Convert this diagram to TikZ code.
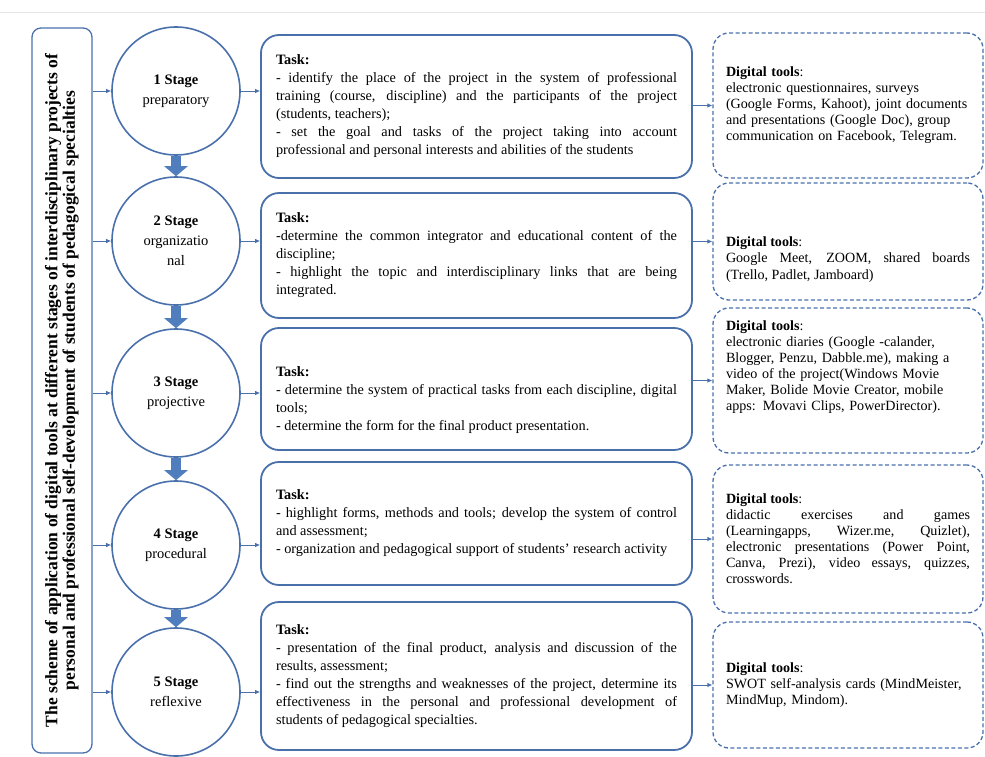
\documentclass[tikz,border=0pt]{standalone}
\usepackage{fontspec}
\setmainfont{Liberation Serif}
\usepackage{tikz}
\usetikzlibrary{arrows.meta, positioning}

\definecolor{schemeblue}{RGB}{74,112,172}
\definecolor{arrowblue}{RGB}{79,125,189}

\begin{document}
\begin{tikzpicture}[x=1pt, y=-1pt, >={Latex[length=5pt,width=4.5pt]},
  stage/.style={circle, draw=schemeblue, line width=1.6pt, minimum size=128pt, inner sep=0pt, align=center, font=\fontsize{14.5}{20}\selectfont},
  taskbox/.style={draw=schemeblue, line width=1.8pt, rounded corners=18pt, text width=401pt, inner xsep=15pt, inner ysep=4pt, align=justify, font=\fontsize{14.3}{18}\selectfont},
  toolbox/.style={draw=schemeblue, line width=1.3pt, dash pattern=on 4pt off 2.5pt, rounded corners=16pt, text width=244pt, inner xsep=13pt, inner ysep=4pt, align=left, font=\fontsize{14.1}{16}\selectfont},
  titlebox/.style={draw=schemeblue, line width=1.3pt, rounded corners=9pt, align=center, font=\bfseries\fontsize{17.5}{17.5}\selectfont},
  link/.style={->, draw=schemeblue, line width=0.8pt},
  blockarrow/.style={draw=arrowblue, line width=10pt, -{Triangle[width=23pt,length=10pt]}}]
  \useasboundingbox (0,0) rectangle (985,757);
  \draw [gray!20, line width=1pt] (0,13) -- (985,13);

  \node [titlebox, rotate=90, minimum width=725pt, minimum height=60pt] (title) at (62,390.5)
    {The scheme of application of digital tools at different stages of interdisciplinary projects of\\
     personal and professional self-development of students of pedagogical specialties};

  \node [stage] (c1) at (176,91) {\textbf{1 Stage}\\preparatory};
  \node [stage] (c2) at (176,241) {\textbf{2 Stage}\\organizatio\\nal};
  \node [stage] (c3) at (176,393) {\textbf{3 Stage}\\projective};
  \node [stage] (c4) at (176,545) {\textbf{4 Stage}\\procedural};
  \node [stage] (c5) at (176,692) {\textbf{5 Stage}\\reflexive};

  \node [taskbox, minimum height=143pt] (t1) at (476.5,106.5)
    {\textbf{Task:}\\
     - identify the place of the project in the system of professional\linebreak
     training (course, discipline) and the participants of the project\linebreak
     (students, teachers);\\
     - set the goal and tasks of the project taking into account\linebreak
     professional and personal interests and abilities of the students};
  \node [taskbox, minimum height=125pt] (t2) at (476.5,255.5)
    {\textbf{Task:}\\
     -determine the common integrator and educational content of the\linebreak
     discipline;\\
     - highlight the topic and interdisciplinary links that are being\linebreak
     integrated.};
  \node [taskbox, minimum height=122pt] (t3) at (476.5,389)
    {\mbox{}\\[14pt]\textbf{Task:}\\
     - determine the system of practical tasks from each discipline, digital\linebreak
     tools;\\
     - determine the form for the final product presentation.};
  \node [taskbox, minimum height=123pt] (t4) at (476.5,523.5)
    {\textbf{Task:}\\
     - highlight forms, methods and tools; develop the system of control\linebreak
     and assessment;\\
     - organization and pedagogical support of students’ research activity};
  \node [taskbox, minimum height=148pt] (t5) at (476.5,676)
    {\textbf{Task:}\\
     - presentation of the final product, analysis and discussion of the\linebreak
     results, assessment;\\
     - find out the strengths and weaknesses of the project, determine its\linebreak
     effectiveness in the personal and professional development of\linebreak
     students of pedagogical specialties.};

  \node [toolbox, minimum height=145pt] (d1) at (848,105.5)
    {\textbf{Digital tools}:\\
     electronic questionnaires, surveys\\
     (Google Forms, Kahoot), joint documents\\
     and presentations (Google Doc), group\\
     communication on Facebook, Telegram.};
  \node [toolbox, minimum height=117pt, align=justify] (d2) at (848,241.5)
    {\mbox{}\\[30pt]\textbf{Digital tools}:\\
     Google Meet, ZOOM, shared boards\linebreak
     (Trello, Padlet, Jamboard)};
  \node [toolbox, minimum height=145pt] (d3) at (848,380.5)
    {\textbf{Digital tools}:\\
     electronic diaries (Google -calander,\\
     Blogger, Penzu, Dabble.me), making a\\
     video of the project(Windows Movie\\
     Maker, Bolide Movie Creator, mobile\\
     apps: Movavi Clips, PowerDirector).\\[14pt]\mbox{}};
  \node [toolbox, minimum height=148pt, align=justify] (d4) at (848,539)
    {\textbf{Digital tools}:\\
     didactic exercises and games\linebreak
     (Learningapps, Wizer.me, Quizlet),\linebreak
     electronic presentations (Power Point,\linebreak
     Canva, Prezi), video essays, quizzes,\linebreak
     crosswords.};
  \node [toolbox, minimum height=126pt] (d5) at (848,685)
    {\textbf{Digital tools}:\\
     SWOT self-analysis cards (MindMeister,\\
     MindMup, Mindom).};

  \draw [blockarrow] (c1.south) -- (c2.north);
  \draw [blockarrow] (c2.south) -- (c3.north);
  \draw [blockarrow] (c3.south) -- (c4.north);
  \draw [blockarrow] (c4.south) -- (c5.north);

  \draw [link] (title.south |- c1) -- (c1);
  \draw [link] (title.south |- c2) -- (c2);
  \draw [link] (title.south |- c3) -- (c3);
  \draw [link] (title.south |- c4) -- (c4);
  \draw [link] (title.south |- c5) -- (c5);

  \draw [link] (c1) -- (c1 -| t1.west);
  \draw [link] (c2) -- (c2 -| t2.west);
  \draw [link] (c3) -- (c3 -| t3.west);
  \draw [link] (c4) -- (c4 -| t4.west);
  \draw [link] (c5) -- (c5 -| t5.west);

  \draw [link] (d1.west -| t1.east) -- (d1.west);
  \draw [link] (d2.west -| t2.east) -- (d2.west);
  \draw [link] (d3.west -| t3.east) -- (d3.west);
  \draw [link] (d4.west -| t4.east) -- (d4.west);
  \draw [link] (d5.west -| t5.east) -- (d5.west);
  \end{tikzpicture}
\end{document}
